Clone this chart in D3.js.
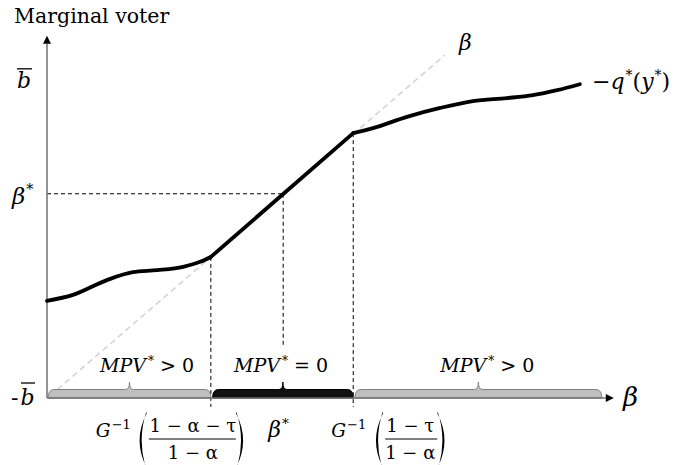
<!DOCTYPE html>
<html>
<head>
<meta charset="utf-8">
<script src="https://cdn.jsdelivr.net/npm/d3@7"></script>
<style>
  body { margin: 0; background: #fff; }
  text { font-family: "DejaVu Serif", serif; fill: #000; }
</style>
</head>
<body>
<div id="chart"></div>
<script>
var w = 675;
var h = 465;

// values: (beta, marginal voter)
var leftCurve = [[0, 19.7], [4.6, 20.9], [10.6, 23.9], [15.2, 25.5], [19.5, 25.9], [24.1, 26.6], [27.1, 27.6], [29.0, 28.6]];
var middleLine = [[29.0, 28.6], [54.2, 53.7]];
var rightCurve = [[54.2, 53.7], [57.7, 54.7], [63.7, 57.0], [69.6, 58.8], [75.4, 60.2], [81.4, 60.8], [86.0, 61.4], [90.3, 62.4], [94.3, 63.6]];
var diagonal = [[0.5, 0.4], [70.4, 69.5]];
var bBar = 64.5;
var betaStar = [41.8, 41.4];
var kinks = [[29.0, 28.6], [54.2, 53.7]];
var regions = [[0.2, 29.0], [29.3, 54.2], [54.5, 98.2]];
var regionSigns = ["> 0", "= 0", "> 0"];
var regionLabelX = [9.4, 33.1, 69.6];

var svg = d3.select("#chart")
  .append("svg")
  .attr("width", w)
  .attr("height", h);

var x = d3.scaleLinear().domain([0, 100]).range([47, 612]);
var y = d3.scaleLinear().domain([0, 100]).range([398, -95.3]);

svg.append("defs").append("marker")
  .attr("id", "arrow")
  .attr("viewBox", "0 0 10 10")
  .attr("refX", 0).attr("refY", 5)
  .attr("markerUnits", "userSpaceOnUse")
  .attr("markerWidth", 9).attr("markerHeight", 8)
  .attr("orient", "auto")
  .append("path").attr("d", "M0,0L10,5L0,10Z").attr("fill", "#000");

var line = d3.line().x(function(d) { return x(d[0]); }).y(function(d) { return y(d[1]); });

// 45 degree line
svg.append("path")
  .attr("d", line(diagonal))
  .attr("fill", "none")
  .attr("stroke", "#d4d4d4")
  .attr("stroke-width", 1.6)
  .attr("stroke-dasharray", "6,4");

// dashed guides
function dash(x1, y1, x2, y2) {
  svg.append("line")
    .attr("x1", x(x1)).attr("y1", y(y1))
    .attr("x2", x(x2)).attr("y2", y(y2))
    .attr("stroke", "#000")
    .attr("stroke-width", 1)
    .attr("stroke-dasharray", "4,3");
}
dash(0, betaStar[1], betaStar[0], betaStar[1]);
dash(betaStar[0], betaStar[1], betaStar[0], 10.7);
kinks.forEach(function(k) { dash(k[0], k[1], k[0], -1.8); });

// braces on the axis
function bracePath(a, b) {
  var x0 = x(a), x1 = x(b), m = (x0 + x1) / 2;
  var yb = y(0), yt = yb - 8.5, yp = yb - 16, r = 6;
  return "M" + x0 + "," + yb +
    " Q" + x0 + "," + yt + " " + (x0 + r) + "," + yt +
    " L" + (m - 4) + "," + yt +
    " Q" + m + "," + yt + " " + m + "," + yp +
    " Q" + m + "," + yt + " " + (m + 4) + "," + yt +
    " L" + (x1 - r) + "," + yt +
    " Q" + x1 + "," + yt + " " + x1 + "," + yb + " Z";
}
svg.selectAll(".brace")
  .data(regions)
  .enter()
  .append("path")
  .attr("class", "brace")
  .attr("d", function(d) { return bracePath(d[0], d[1]); })
  .attr("fill", function(d, i) { return i == 1 ? "#111" : "#bfbfbf"; })
  .attr("stroke", function(d, i) { return i == 1 ? "#000" : "#808080"; })
  .attr("stroke-width", 1);

// axes
svg.append("line")
  .attr("x1", x(0)).attr("y1", y(0))
  .attr("x2", x(0)).attr("y2", y(71.8))
  .attr("stroke", "#707070").attr("stroke-width", 1.5)
  .attr("marker-end", "url(#arrow)");
svg.append("line")
  .attr("x1", x(0)).attr("y1", y(0))
  .attr("x2", x(98.9)).attr("y2", y(0))
  .attr("stroke", "#707070").attr("stroke-width", 1.5)
  .attr("marker-end", "url(#arrow)");

// the -q*(y*) curve
[[leftCurve, d3.curveMonotoneX], [middleLine, d3.curveLinear], [rightCurve, d3.curveMonotoneX]].forEach(function(p) {
  svg.append("path")
    .attr("d", line.curve(p[1])(p[0]))
    .attr("fill", "none")
    .attr("stroke", "#000")
    .attr("stroke-width", 3.8)
    .attr("stroke-linecap", "round")
    .attr("stroke-linejoin", "round");
});

// labels
svg.append("text").attr("x", 14).attr("y", 23).attr("font-size", 20.5).text("Marginal voter");

svg.append("text").attr("x", 17).attr("y", y(bBar) + 8).attr("font-size", 22).attr("font-style", "italic").text("b");
svg.append("line").attr("x1", 17).attr("x2", 32).attr("y1", y(bBar) - 11).attr("y2", y(bBar) - 11).attr("stroke", "#000").attr("stroke-width", 1.3);

var t = svg.append("text").attr("x", 11).attr("y", y(0) + 7).attr("font-size", 22);
t.append("tspan").text("-");
t.append("tspan").attr("dx", 2).attr("font-style", "italic").text("b");
svg.append("line").attr("x1", 21).attr("x2", 35).attr("y1", y(0) - 15).attr("y2", y(0) - 15).attr("stroke", "#000").attr("stroke-width", 1.3);

function starLabel(px, py, size) {
  var t = svg.append("text").attr("x", px).attr("y", py).attr("font-size", size);
  t.append("tspan").attr("font-style", "italic").text("β");
  t.append("tspan").attr("font-size", size * 0.62).attr("dx", 1).attr("dy", -size * 0.42).text("*");
}
starLabel(12, y(betaStar[1]) + 10, 23);
starLabel(x(betaStar[0]) - 15, 437, 22);

svg.append("text").attr("x", 459).attr("y", 50).attr("font-size", 22).attr("font-style", "italic").text("β");
svg.append("text").attr("x", 623).attr("y", 406).attr("font-size", 26).attr("font-style", "italic").text("β");

var q = svg.append("text").attr("x", 592).attr("y", 89).attr("font-size", 22);
q.append("tspan").text("−");
q.append("tspan").attr("font-style", "italic").text("q");
q.append("tspan").attr("font-size", 14).attr("dx", 1).attr("dy", -9).text("*");
q.append("tspan").attr("dy", 9).text("(");
q.append("tspan").attr("font-style", "italic").text("y");
q.append("tspan").attr("font-size", 14).attr("dx", 1).attr("dy", -9).text("*");
q.append("tspan").attr("dy", 9).text(")");

regions.forEach(function(r, i) {
  var t = svg.append("text").attr("x", x(regionLabelX[i])).attr("y", 372).attr("font-size", 19);
  t.append("tspan").attr("font-style", "italic").text("MPV");
  t.append("tspan").attr("font-size", 12).attr("dx", 2).attr("dy", -7).text("*");
  t.append("tspan").attr("dy", 7).attr("dx", 6).text(regionSigns[i]);
});

// G^-1 ( num / den ) labels under the kinks
function paren(px, left) {
  var top = 413, bot = 468, mid = (top + bot) / 2;
  var s = left ? 1 : -1;
  var xe = px + s * 11;
  svg.append("path")
    .attr("d", "M" + xe + "," + top +
      " Q" + (px - s * 3.5) + "," + mid + " " + xe + "," + bot +
      " L" + (xe - s * 0.6) + "," + (bot + 1) +
      " Q" + (px + s * 1.2) + "," + mid + " " + (xe - s * 0.6) + "," + (top - 1) + " Z")
    .attr("fill", "#000");
}
function gInverse(gx, lp, rp, cx, bx0, bx1, num) {
  var g = svg.append("text").attr("x", gx).attr("y", 437).attr("font-size", 18.5);
  g.append("tspan").attr("font-style", "italic").text("G");
  g.append("tspan").attr("font-size", 13).attr("dy", -8).attr("dx", 1).text("−1");
  paren(lp, true);
  paren(rp, false);
  svg.append("text").attr("x", cx).attr("y", 432).attr("font-size", 18).attr("text-anchor", "middle").text(num);
  svg.append("line").attr("x1", bx0).attr("x2", bx1).attr("y1", 439).attr("y2", 439).attr("stroke", "#000").attr("stroke-width", 1);
  svg.append("text").attr("x", cx).attr("y", 459).attr("font-size", 18).attr("text-anchor", "middle").text("1 − α");
}
var k0 = x(kinks[0][0]), k1 = x(kinks[1][0]);
gInverse(k0 - 115, k0 - 75, k0 + 36, k0 - 18, k0 - 62, k0 + 25, "1 − α − τ");
gInverse(k1 - 22, k1 + 19, k1 + 95, k1 + 57, k1 + 32, k1 + 84, "1 − τ");
</script>
</body>
</html>
